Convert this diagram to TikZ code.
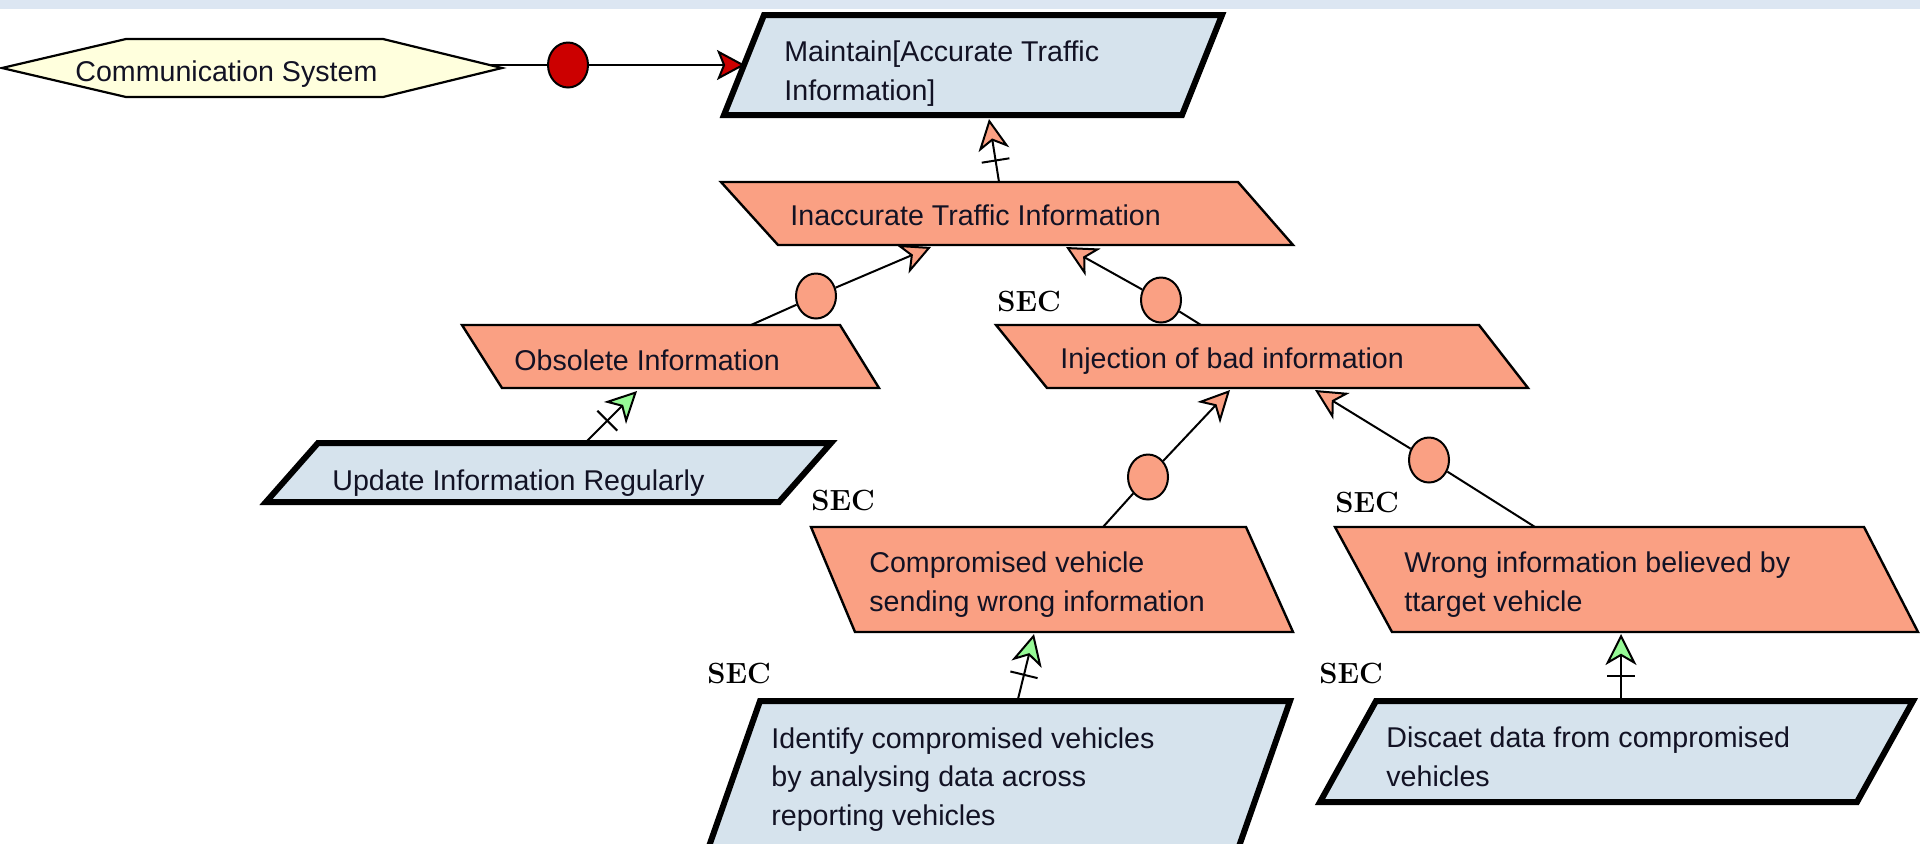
\documentclass[tikz,border=0pt]{standalone}
\usepackage{fontspec}
\newfontfamily\boxfont{Liberation Sans}
\usetikzlibrary{arrows.meta,shapes.geometric,calc}

\definecolor{salmon}{RGB}{250,160,131}
\definecolor{goalblue}{RGB}{214,227,237}
\definecolor{hexfill}{RGB}{255,255,221}
\definecolor{agentred}{RGB}{204,0,0}
\definecolor{okgreen}{RGB}{150,250,150}
\definecolor{band}{RGB}{220,230,242}
\definecolor{txt}{RGB}{18,18,36}

% perpendicular bar across a link, a little behind its arrow tip
\newcommand\linkbar[2]{%
  \coordinate (cb) at ($(#1)!21pt!(#2)$);
  \draw[link] ($(cb)!7pt!90:(#1)$) -- ($(cb)!7pt!-90:(#1)$);
}

\begin{document}
\begin{tikzpicture}[x=0.5pt,y=-0.5pt,
  lbl/.style={font={\boxfont\fontsize{14.3pt}{19.25pt}\selectfont},
              inner sep=0pt, align=left, text=txt, anchor=base west},
  seclbl/.style={font={\bfseries\fontsize{14.6pt}{16pt}\selectfont},
                 inner sep=0pt, anchor=west},
  orangebox/.style={draw=black, fill=salmon, line width=1.2pt, line join=miter},
  bluebox/.style={draw=black, fill=goalblue, line width=3pt, line join=miter},
  agentbox/.style={draw=black, fill=hexfill, line width=1.1pt, line join=miter},
  link/.style={draw=black, line width=1pt},
  refnode/.style={ellipse, draw=black, line width=1pt, fill=salmon,
                  minimum width=20pt, minimum height=22.5pt, inner sep=0pt},
  salmonhead/.style={-{Stealth[length=15.5pt,width=15.5pt,inset=4.5pt,fill=salmon]}},
  greenhead/.style={-{Stealth[length=15.5pt,width=15.5pt,inset=4.5pt,fill=okgreen]}},
  redhead/.style={-{Stealth[length=14pt,width=15pt,inset=3pt,fill=agentred]}},
]
\useasboundingbox (0,0) rectangle (1920,843);
\fill[white] (0,0) rectangle (1920,843);
\fill[band] (0,0) rectangle (1920,9);

% ---------- boxes ----------
% agent (multi-line labels are placed by the baseline of their last line)
\draw[agentbox] (2,68) -- (126,39) -- (383,39) -- (502,68) -- (383,97) -- (126,97) -- cycle;
\node[lbl] (comm) at (75,81) {Communication System};

% top goal
\draw[bluebox] (764,15) -- (1222,15) -- (1182,115) -- (724,115) -- cycle;
\node[lbl] (maint) at (784,100) {Maintain[Accurate Traffic\\Information]};

% obstacles
\draw[orangebox] (721,182) -- (1238,182) -- (1293,245) -- (778,245) -- cycle;
\node[lbl] (inacc) at (790,225) {Inaccurate Traffic Information};

\draw[orangebox] (462,325) -- (840,325) -- (879,388) -- (502,388) -- cycle;
\node[lbl] (obs) at (514,370) {Obsolete Information};

\draw[orangebox] (996,325) -- (1479,325) -- (1528,388) -- (1047,388) -- cycle;
\node[lbl] (inj) at (1060,368) {Injection of bad information};

\draw[orangebox] (811,527) -- (1246,527) -- (1293,632) -- (855,632) -- cycle;
\node[lbl] (comp) at (869,611) {Compromised vehicle\\sending wrong information};

\draw[orangebox] (1335,527) -- (1864,527) -- (1918,632) -- (1392,632) -- cycle;
\node[lbl] (wrong) at (1404,611) {Wrong information believed by\\ttarget vehicle};

% countermeasure goals
\draw[bluebox] (318,443) -- (831,443) -- (779,502) -- (266,502) -- cycle;
\node[lbl] (upd) at (332,490) {Update Information Regularly};

\draw[bluebox] (760,701) -- (1290,701) -- (1237,852) -- (707,852) -- cycle;
\node[lbl] (ident) at (771,825) {Identify compromised vehicles\\by analysing data across\\reporting vehicles};

\draw[bluebox] (1376,701) -- (1913,701) -- (1857,802) -- (1320,802) -- cycle;
\node[lbl] (disc) at (1386,786) {Discaet data from compromised\\vehicles};

% ---------- attachment points ----------
\coordinate (comm-e) at (490,65);
\coordinate (maint-w) at (745,65);
\coordinate (maint-s) at (989,119);
\coordinate (inacc-n) at (999,182);
\coordinate (inacc-sw) at (931,247);
\coordinate (inacc-se) at (1066,247);
\coordinate (obs-n) at (751,325);
\coordinate (obs-s) at (637,391);
\coordinate (inj-n) at (1201,325);
\coordinate (inj-sw) at (1230,390);
\coordinate (inj-se) at (1315,390);
\coordinate (upd-n) at (586,442);
\coordinate (comp-n) at (1103,527);
\coordinate (comp-s) at (1034,634);
\coordinate (wrong-n) at (1535,527);
\coordinate (wrong-s) at (1621,634);
\coordinate (ident-n) at (1018,699);
\coordinate (disc-n) at (1621,699);

% ---------- refinement nodes ----------
\node[refnode, fill=agentred] (resp) at (568,65) {};
\node[refnode] (r1) at (816,296) {};
\node[refnode] (r2) at (1161,300) {};
\node[refnode] (r3) at (1148,477) {};
\node[refnode] (r4) at (1429,460) {};

% ---------- links ----------
\draw[link] (comm-e) -- (resp);
\draw[link, redhead] (resp) -- (maint-w);

\draw[link, salmonhead] (inacc-n) -- (maint-s);
\linkbar{maint-s}{inacc-n}

\draw[link] (obs-n) -- (r1);
\draw[link, salmonhead] (r1) -- (inacc-sw);
\draw[link] (inj-n) -- (r2);
\draw[link, salmonhead] (r2) -- (inacc-se);

\draw[link, greenhead] (upd-n) -- (obs-s);
\linkbar{obs-s}{upd-n}

\draw[link] (comp-n) -- (r3);
\draw[link, salmonhead] (r3) -- (inj-sw);
\draw[link] (wrong-n) -- (r4);
\draw[link, salmonhead] (r4) -- (inj-se);

\draw[link, greenhead] (ident-n) -- (comp-s);
\linkbar{comp-s}{ident-n}
\draw[link, greenhead] (disc-n) -- (wrong-s);
\linkbar{wrong-s}{disc-n}

% ---------- labels ----------
\node[seclbl] (sec1) at (997,301) {SEC};
\node[seclbl] (sec2) at (811,500) {SEC};
\node[seclbl] (sec3) at (1335,502) {SEC};
\node[seclbl] (sec4) at (707,673) {SEC};
\node[seclbl] (sec5) at (1319,673) {SEC};
\end{tikzpicture}
\end{document}
